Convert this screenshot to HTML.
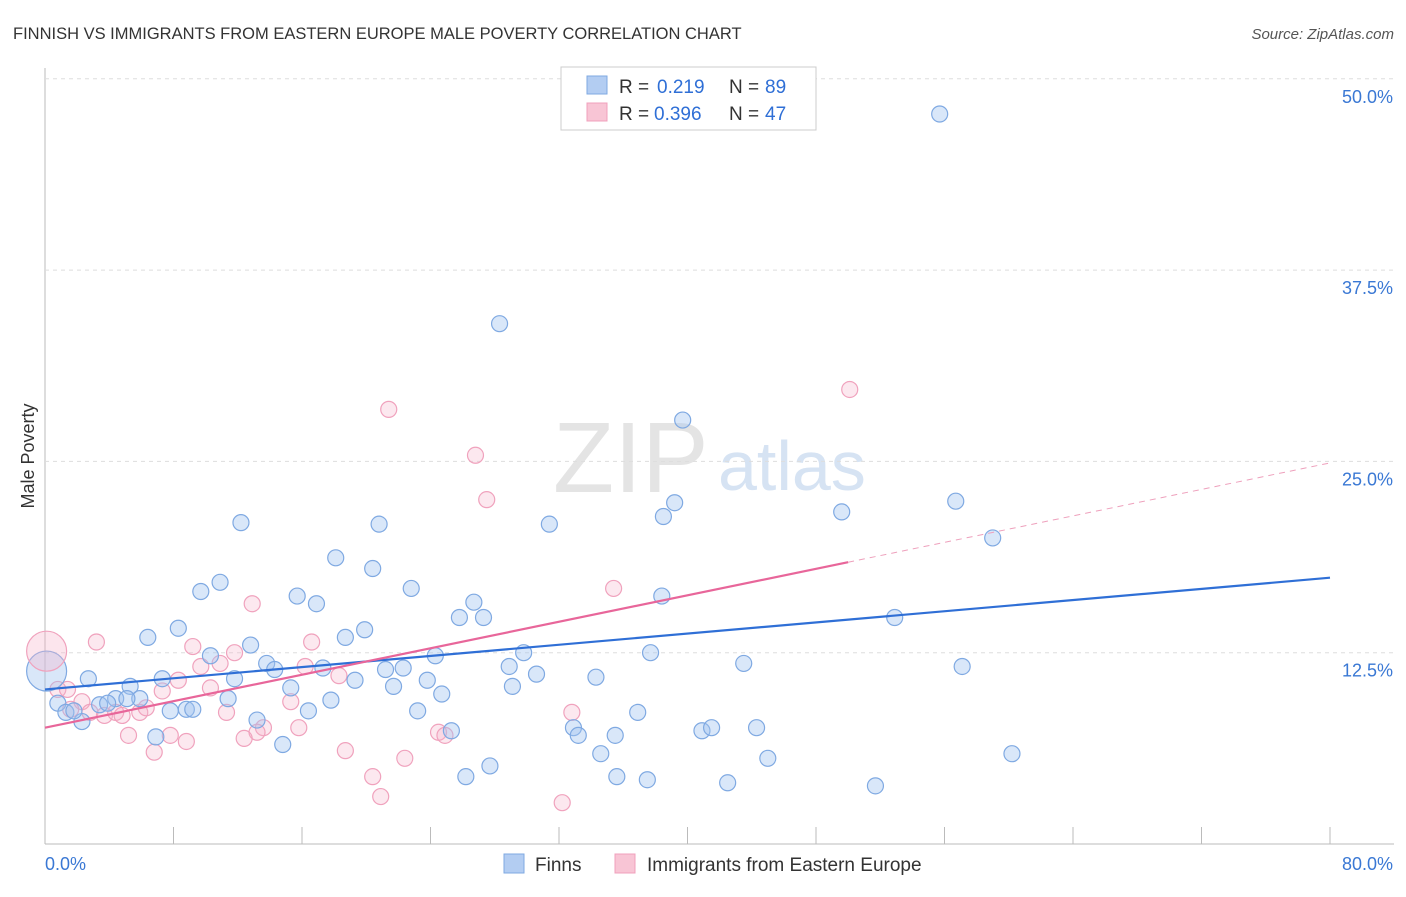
<!DOCTYPE html>
<html><head><meta charset="utf-8"><style>
body{margin:0;background:#fff;font-family:"Liberation Sans",sans-serif;}
svg text{font-family:"Liberation Sans",sans-serif;}
</style></head><body>
<svg id="chart" width="1406" height="892">
<text x="13" y="39" font-size="16.5" fill="#333">FINNISH VS IMMIGRANTS FROM EASTERN EUROPE MALE POVERTY CORRELATION CHART</text>
<text x="1394" y="39" font-size="15" fill="#555" text-anchor="end" font-style="italic">Source: ZipAtlas.com</text>
<text x="553" y="492" font-size="100" fill="#e4e4e4" font-family="Liberation Serif">ZIP</text>
<text x="718" y="490" font-size="70" fill="#d6e3f3">atlas</text>
<text x="34" y="456" font-size="18" fill="#333" transform="rotate(-90 34 456)" text-anchor="middle">Male Poverty</text>
<g id="grid"></g><g id="pts"></g><g id="lines"></g>
<g>
<rect x="561" y="67" width="255" height="63" fill="#fff" stroke="#ccc"/>
<rect x="587" y="76" width="20" height="18" fill="#b3cdf2" stroke="#7fa9e2"/>
<rect x="587" y="103" width="20" height="18" fill="#f8c5d5" stroke="#f0a0bc"/>
<text x="619" y="93" font-size="19" fill="#333">R = </text><text x="657" y="93" font-size="19" fill="#2f6fd6">0.219</text>
<text x="729" y="93" font-size="19" fill="#333">N = </text><text x="765" y="93" font-size="19" fill="#2f6fd6">89</text>
<text x="619" y="120" font-size="19" fill="#333">R = </text><text x="654" y="120" font-size="19" fill="#2f6fd6">0.396</text>
<text x="729" y="120" font-size="19" fill="#333">N = </text><text x="765" y="120" font-size="19" fill="#2f6fd6">47</text>
</g>
<g>
<rect x="504" y="854" width="20" height="19" fill="#b3cdf2" stroke="#7fa9e2"/>
<text x="535" y="871" font-size="19" fill="#333">Finns</text>
<rect x="615" y="854" width="20" height="19" fill="#f8c5d5" stroke="#f0a0bc"/>
<text x="647" y="871" font-size="19" fill="#333">Immigrants from Eastern Europe</text>
</g>
</svg>
<script>
const xTicks=[0,8,16,24,32,40,48,56,64,72,80];
const yTicks=[12.5,25,37.5,50];
const yTickLabels=["12.5%","25.0%","37.5%","50.0%"];
const finnsX=[55.7,28.3,39.7,38.5,39.2,31.4,49.6,56.7,59.0,12.2,20.8,18.1,20.4,10.9,9.7,15.7,16.9,22.8,26.7,25.8,27.3,38.4,52.9,8.3,6.4,12.8,19.9,18.7,10.3,13.8,14.3,17.3,21.2,22.3,24.3,29.8,28.9,30.6,37.7,43.5,57.1,2.7,7.3,11.8,5.3,5.9,4.4,15.3,19.3,21.7,23.8,29.1,34.3,24.7,0.8,1.3,2.3,1.8,3.4,3.9,5.1,8.8,9.2,7.8,11.4,17.8,16.4,13.2,23.2,25.3,14.8,6.9,32.9,33.2,35.5,36.9,40.9,41.5,44.3,34.6,45.0,60.2,27.7,26.2,35.6,37.5,42.5,51.7];
const finnsY=[47.7,34.0,27.7,21.4,22.3,20.9,21.7,22.4,20.0,21.0,20.9,18.7,18.0,17.1,16.5,16.2,15.7,16.7,15.8,14.8,14.8,16.2,14.8,14.1,13.5,13.0,14.0,13.5,12.3,11.8,11.4,11.5,11.4,11.5,12.3,12.5,11.6,11.1,12.5,11.8,11.6,10.8,10.8,10.8,10.3,9.5,9.5,10.2,10.7,10.3,10.7,10.3,10.9,9.8,9.2,8.6,8.0,8.7,9.1,9.2,9.5,8.8,8.8,8.7,9.5,9.4,8.7,8.1,8.7,7.4,6.5,7.0,7.6,7.1,7.1,8.6,7.4,7.6,7.6,5.9,5.6,5.9,5.1,4.4,4.4,4.2,4.0,3.8];
const eeX=[50.1,21.4,26.8,27.5,35.4,12.9,3.2,9.2,16.6,11.8,9.7,10.9,8.3,16.2,18.3,7.3,10.3,0.8,1.4,2.3,1.6,2.8,3.7,4.4,4.8,5.9,6.3,11.3,15.3,13.6,13.2,15.8,5.2,7.8,8.8,12.4,6.8,18.7,24.5,24.9,32.8,22.4,20.4,20.9,32.2];
const eeY=[29.7,28.4,25.4,22.5,16.7,15.7,13.2,12.9,13.2,12.5,11.6,11.8,10.7,11.6,11.0,10.0,10.2,10.1,10.1,9.3,8.8,8.6,8.4,8.6,8.4,8.6,8.9,8.6,9.3,7.6,7.3,7.6,7.1,7.1,6.7,6.9,6.0,6.1,7.3,7.1,8.6,5.6,4.4,3.1,2.7];
const bigX=[0.1,0.1], bigY=[11.3,12.6];
const finnsTrend=[10.1,17.4], eeTrend=[7.6,24.9];
const NS="http://www.w3.org/2000/svg";
const X=v=>45+v/80*1285, Y=v=>844-v/12.5*191.3;
function mk(parent,tag,attrs){const e=document.createElementNS(NS,tag);for(const k in attrs)e.setAttribute(k,attrs[k]);document.getElementById(parent).appendChild(e);return e;}
mk('grid','line',{x1:45,x2:1394,y1:Y(0),y2:Y(0),stroke:'#bbb'});
mk('grid','line',{x1:45,x2:45,y1:68,y2:Y(0),stroke:'#bbb'});
yTicks.forEach((t,i)=>{
 const l=mk('grid','line',{x1:45,x2:1394,y1:Y(t),y2:Y(t),stroke:'#ddd','stroke-dasharray':'4,4'});
 
 
 const tx=mk('grid','text',{x:1393,y:Y(t)+24,'font-size':18,fill:'#3a78d4','text-anchor':'end'});tx.textContent=yTickLabels[i];
 
 
});
xTicks.forEach(t=>{
 const l=mk('grid','line',{x1:X(t),x2:X(t),y1:Y(0),y2:Y(0)-17,stroke:'#bbb'});
 
 
});
let a=mk('grid','text',{x:45,y:870,'font-size':18,fill:'#3a78d4'});a.textContent='0.0%';


a=mk('grid','text',{x:1393,y:870,'font-size':18,fill:'#3a78d4','text-anchor':'end'});a.textContent='80.0%';


function dot(x,y,r,fill,stroke,name){const c=mk('pts','circle',{cx:X(x),cy:Y(y),r:r,fill:fill,stroke:stroke,'stroke-width':1.2});
 
 }
eeX.forEach((v,i)=>dot(v,eeY[i],8,'rgba(246,180,202,0.3)','#f0a2bd','point-eastern-europe'));
finnsX.forEach((v,i)=>dot(v,finnsY[i],8,'rgba(160,196,240,0.4)','#7fa9e2','point-finns'));
dot(bigX[0],bigY[0],20,'rgba(160,196,240,0.4)','#7fa9e2','point-finns-large');
dot(bigX[1],bigY[1],20,'rgba(246,180,202,0.35)','#f0a2bd','point-eastern-europe-large');
let ln=mk('lines','line',{x1:X(0),y1:Y(finnsTrend[0]),x2:X(80),y2:Y(finnsTrend[1]),stroke:'#2f6fd6','stroke-width':2.2});


const ex=50;const ey=eeTrend[0]+(eeTrend[1]-eeTrend[0])*ex/80;
ln=mk('lines','line',{x1:X(0),y1:Y(eeTrend[0]),x2:X(ex),y2:Y(ey),stroke:'#e8669a','stroke-width':2.2});


ln=mk('lines','line',{x1:X(ex),y1:Y(ey),x2:X(80),y2:Y(eeTrend[1]),stroke:'#eea0bc','stroke-width':1,'stroke-dasharray':'6,5'});


</script>
</body></html>
